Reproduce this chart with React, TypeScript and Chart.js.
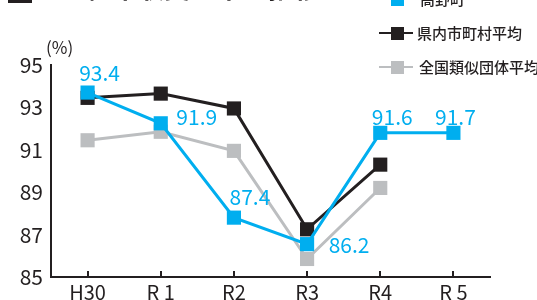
import React, { useEffect, useRef } from "react";
import { Chart, registerables } from "chart.js";

Chart.register(...registerables);

const categories = ["H30", "R 1", "R2", "R3", "R4", "R 5"];
const townValues = [93.7, 92.25, 87.8, 86.55, 91.8, 91.8];
const townLabels = ["93.4", "91.9", "87.4", "86.2", "91.6", "91.7"];
const prefValues = [93.45, 93.65, 92.95, 87.25, 90.3, null];
const similarValues = [91.45, 91.85, 90.95, 85.85, 89.2, null];
const seriesNames = ["高野町", "県内市町村平均", "全国類似団体平均"];
const titleText = "経常収支比率の推移";
const yTicks = [85, 87, 89, 91, 93, 95];

const BLUE = "#00aeef";
const BLACK = "#231f20";
const GRAY = "#bcbec0";
const FONT = "'Noto Sans CJK JP', 'Noto Sans', sans-serif";

const labelOffsets = [
  [12, -20],
  [36, -6],
  [16, -21],
  [42, 1],
  [12, -16],
  [2, -16],
];

const overlayPlugin = {
  id: "overlay",
  afterDraw(chart: any) {
    const ctx = chart.ctx;
    ctx.save();
    // inward tick marks on x axis
    const xs = chart.scales.x;
    const bottom = chart.chartArea.bottom;
    ctx.strokeStyle = BLACK;
    ctx.lineWidth = 2;
    for (let i = 0; i < categories.length; i++) {
      const px = Math.round(xs.getPixelForTick(i));
      ctx.beginPath();
      ctx.moveTo(px, bottom - 6);
      ctx.lineTo(px, bottom);
      ctx.stroke();
    }
    // data labels
    const meta = chart.getDatasetMeta(0);
    ctx.fillStyle = BLUE;
    ctx.font = `21px ${FONT}`;
    ctx.textAlign = "center";
    ctx.textBaseline = "middle";
    meta.data.forEach((pt: any, i: number) => {
      const [dx, dy] = labelOffsets[i];
      ctx.fillText(townLabels[i], pt.x + dx, pt.y + dy);
    });
    // unit
    ctx.fillStyle = BLACK;
    ctx.font = `17px ${FONT}`;
    ctx.textAlign = "left";
    ctx.fillText("(%)", 46, 48);
    // title (cropped)
    ctx.fillRect(8, -20, 24, 23);
    ctx.font = `bold 26px ${FONT}`;
    ctx.textBaseline = "alphabetic";
    ctx.fillText(titleText, 86, -2);
    // legend
    const colors = [BLUE, BLACK, GRAY];
    const ys = [-1, 33, 67];
    ctx.font = `500 15px ${FONT}`;
    ctx.textBaseline = "middle";
    for (let i = 0; i < 3; i++) {
      const y = ys[i];
      ctx.strokeStyle = colors[i];
      ctx.fillStyle = colors[i];
      ctx.lineWidth = 2;
      if (i > 0) {
        ctx.beginPath();
        ctx.moveTo(379, y);
        ctx.lineTo(413, y);
        ctx.stroke();
      }
      ctx.fillRect(391, y - 6, 13, 13);
      ctx.fillStyle = BLACK;
      ctx.fillText(seriesNames[i], i === 0 ? 420 : i === 1 ? 417 : 419, y);
    }
    ctx.restore();
  },
};

export default function App() {
  const ref = useRef<HTMLCanvasElement>(null);
  useEffect(() => {
    document.body.style.margin = "0";
    const ds = (label: string, data: any[], color: string, order: number) => ({
      label,
      data,
      order,
      borderColor: color,
      backgroundColor: color,
      borderWidth: 3,
      pointStyle: "rect",
      pointRadius: 10,
      pointHoverRadius: 10,
      pointBorderWidth: 0,
      spanGaps: false,
    });
    const chart = new Chart(ref.current!, {
      type: "line",
      data: {
        labels: categories,
        datasets: [
          ds(seriesNames[0], townValues, BLUE, 0),
          ds(seriesNames[1], prefValues, BLACK, 1),
          ds(seriesNames[2], similarValues, GRAY, 2),
        ],
      },
      options: {
        animation: false,
        responsive: false,
        maintainAspectRatio: false,
        layout: { padding: { top: 65, right: 47, bottom: 0, left: 0 } },
        plugins: { legend: { display: false }, tooltip: { enabled: false } },
        scales: {
          x: {
            offset: true,
            grid: { display: false, drawTicks: false },
            border: { display: true, color: BLACK, width: 2 },
            ticks: { color: BLACK, font: { size: 20, family: FONT }, padding: 3, maxRotation: 0 },
            afterFit(scale: any) {
              scale.height = 23;
            },
          },
          y: {
            min: 85,
            max: 95,
            afterBuildTicks(scale: any) {
              scale.ticks = yTicks.map((v) => ({ value: v }));
            },
            grid: { display: false, drawTicks: false },
            border: { display: true, color: BLACK, width: 2 },
            ticks: { color: BLACK, font: { size: 21, family: FONT }, padding: 8 },
            afterFit(scale: any) {
              scale.width = 51;
            },
          },
        },
      },
      plugins: [overlayPlugin],
    });
    return () => chart.destroy();
  }, []);
  return (
    <div style={{ position: "absolute", left: 0, top: 0, width: 537, height: 300 }}>
      <canvas ref={ref} width={537} height={300} style={{ width: 537, height: 300 }} />
    </div>
  );
}
